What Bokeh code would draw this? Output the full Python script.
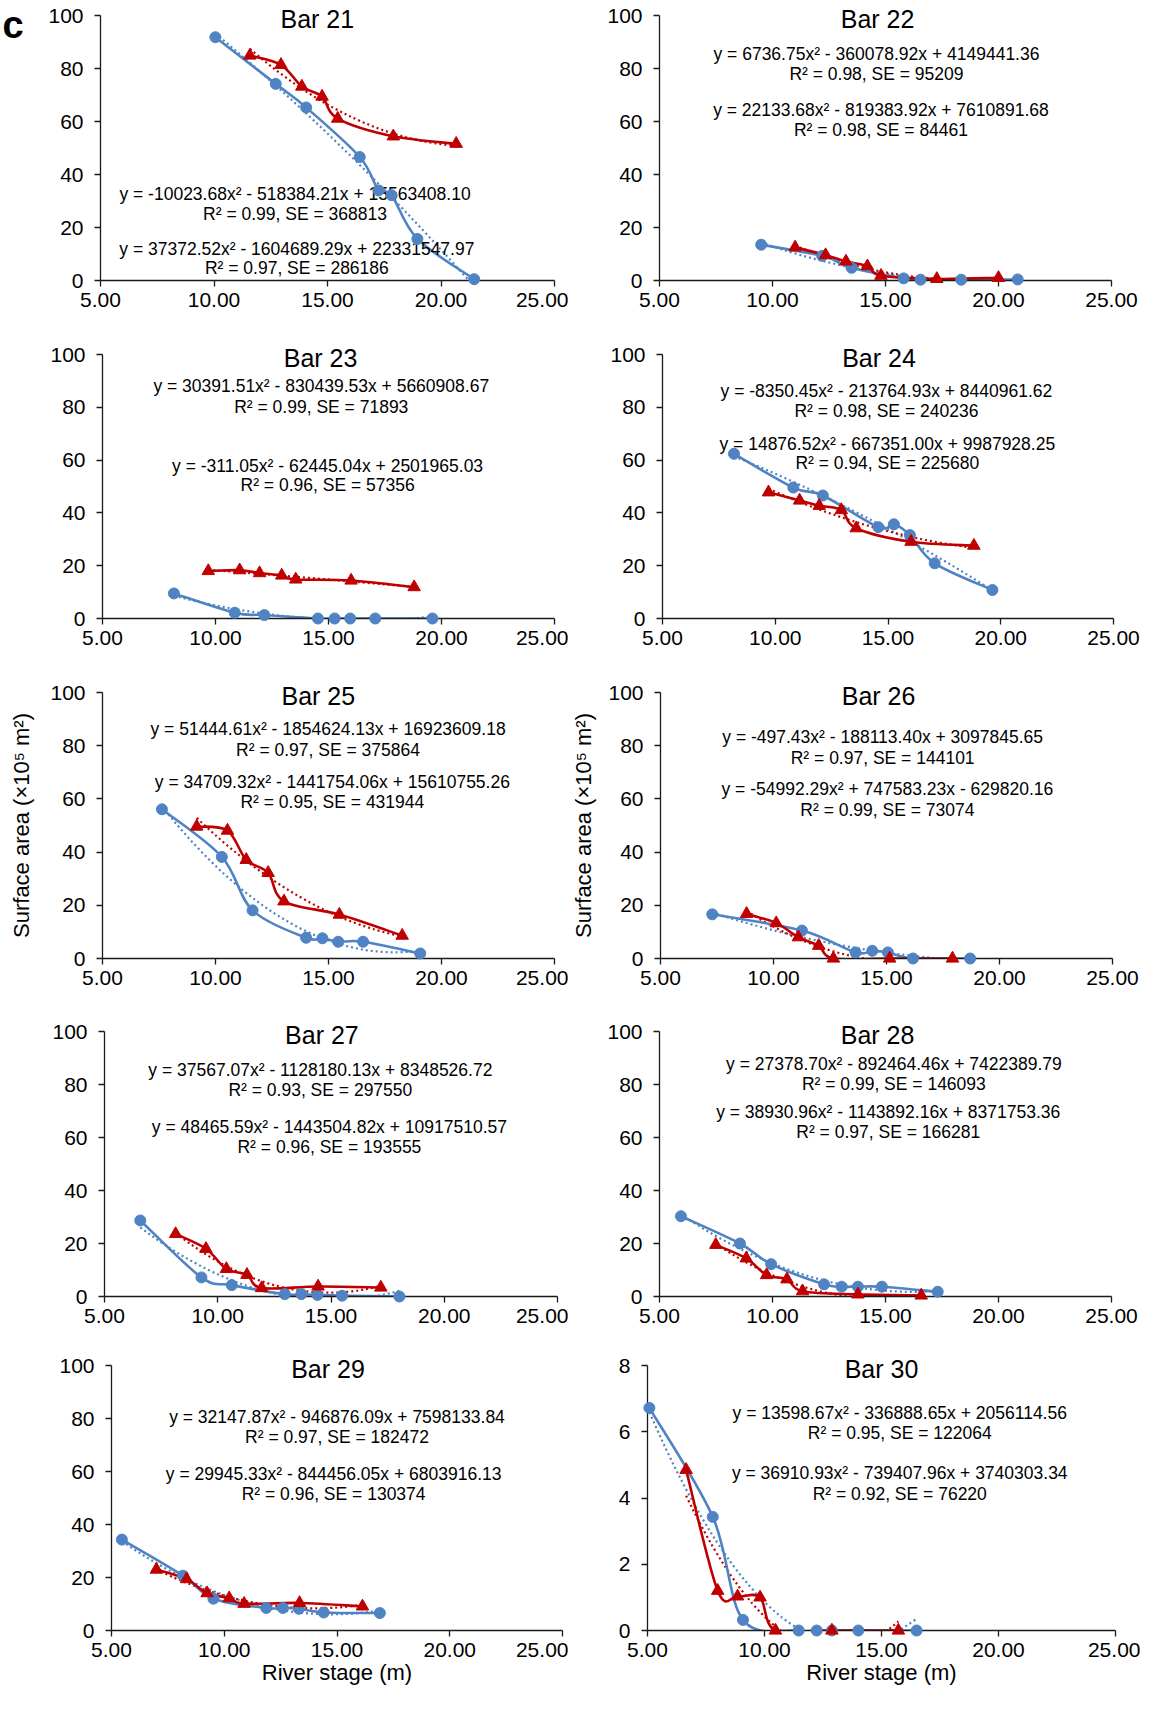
import numpy as np
from bokeh.plotting import figure
from bokeh.layouts import column, row
from bokeh.models import Range1d, FixedTicker, NumeralTickFormatter
from bokeh.embed import file_html
from bokeh.resources import INLINE
from bokeh.core.properties import value

FONT = "Liberation Sans"
BLUE = "#4f83c3"
RED = "#c00000"

# ---------------- data (river stage m, surface area x10^5 m^2) ----------------
X_TICKS = [5, 10, 15, 20, 25]
Y_TICKS_100 = [0, 20, 40, 60, 80, 100]
Y_TICKS_8 = [0, 2, 4, 6, 8]

BAR21_BLUE_X = [10.06, 12.72, 14.06, 16.42, 17.25, 17.82, 18.96, 21.46]
BAR21_BLUE_Y = [91.8, 74.2, 65.3, 46.6, 34.0, 32.2, 15.7, 0.5]
BAR21_RED_X = [11.58, 12.95, 13.87, 14.76, 15.45, 17.90, 20.67]
BAR21_RED_Y = [84.9, 81.4, 73.2, 69.4, 61.1, 54.4, 51.6]

BAR22_BLUE_X = [9.50, 12.20, 13.50, 15.80, 16.55, 18.35, 20.85]
BAR22_BLUE_Y = [13.5, 9.3, 4.8, 0.8, 0.3, 0.3, 0.4]
BAR22_RED_X = [11.00, 12.35, 13.25, 14.20, 14.80, 17.27, 20.00]
BAR22_RED_Y = [12.5, 9.6, 7.2, 5.4, 1.8, 0.6, 1.0]

BAR23_BLUE_X = [8.16, 10.85, 12.16, 14.53, 15.27, 15.96, 17.07, 19.60]
BAR23_BLUE_Y = [9.5, 2.2, 1.3, 0.0, 0.0, 0.0, 0.0, 0.0]
BAR23_RED_X = [9.68, 11.07, 11.95, 12.93, 13.55, 16.00, 18.79]
BAR23_RED_Y = [18.0, 18.3, 17.2, 16.3, 14.8, 14.4, 11.9]

BAR24_BLUE_X = [8.17, 10.80, 12.11, 14.57, 15.26, 15.97, 17.07, 19.63]
BAR24_BLUE_Y = [62.4, 49.6, 46.6, 34.6, 35.7, 31.6, 20.9, 10.8]
BAR24_RED_X = [9.70, 11.08, 11.95, 12.93, 13.59, 16.02, 18.81]
BAR24_RED_Y = [47.8, 44.7, 42.7, 41.1, 34.2, 29.1, 27.6]

BAR25_BLUE_X = [7.63, 10.28, 11.64, 14.01, 14.73, 15.43, 16.53, 19.06]
BAR25_BLUE_Y = [56.1, 38.2, 18.1, 7.8, 7.6, 6.3, 6.3, 1.9]
BAR25_RED_X = [9.17, 10.53, 11.36, 12.33, 13.03, 15.48, 18.26]
BAR25_RED_Y = [49.6, 48.1, 37.1, 32.2, 21.5, 16.5, 8.6]

BAR26_BLUE_X = [7.29, 11.26, 13.63, 14.37, 15.06, 16.17, 18.70]
BAR26_BLUE_Y = [16.6, 10.5, 2.3, 2.9, 2.3, 0.0, 0.0]
BAR26_RED_X = [8.81, 10.12, 11.10, 12.00, 12.65, 15.14, 17.92]
BAR26_RED_Y = [16.8, 13.3, 8.0, 4.8, 0.0, 0.0, 0.0]

BAR27_BLUE_X = [6.58, 9.28, 10.62, 12.96, 13.69, 14.40, 15.49, 18.02]
BAR27_BLUE_Y = [28.7, 7.2, 4.3, 0.9, 0.9, 0.6, 0.3, 0.0]
BAR27_RED_X = [8.14, 9.48, 10.38, 11.29, 11.94, 14.43, 17.20]
BAR27_RED_Y = [23.6, 18.0, 10.4, 8.2, 3.2, 3.8, 3.4]

BAR28_BLUE_X = [5.95, 8.56, 9.94, 12.28, 13.06, 13.78, 14.84, 17.31]
BAR28_BLUE_Y = [30.3, 20.0, 12.2, 4.6, 3.7, 3.7, 3.7, 1.8]
BAR28_RED_X = [7.49, 8.84, 9.74, 10.64, 11.33, 13.78, 16.58]
BAR28_RED_Y = [19.5, 14.4, 8.1, 6.5, 2.0, 0.8, 0.4]

BAR29_BLUE_X = [5.46, 8.17, 9.52, 11.86, 12.60, 13.31, 14.41, 16.90]
BAR29_BLUE_Y = [34.3, 20.7, 12.0, 8.5, 8.5, 8.2, 6.8, 6.6]
BAR29_RED_X = [6.99, 8.33, 9.24, 10.22, 10.88, 13.34, 16.13]
BAR29_RED_Y = [23.0, 19.4, 14.1, 12.2, 10.1, 10.4, 9.1]

BAR30_BLUE_X = [5.08, 7.79, 9.08, 11.46, 12.23, 12.88, 14.01, 16.50]
BAR30_BLUE_Y = [6.72, 3.43, 0.32, 0.0, 0.0, 0.0, 0.0, 0.0]
BAR30_RED_X = [6.65, 8.00, 8.85, 9.81, 10.47, 12.88, 15.72]
BAR30_RED_Y = [4.85, 1.20, 1.03, 1.00, 0.0, 0.0, 0.0]

EQ21 = ["y = -10023.68x² - 518384.21x + 15563408.10", "R² = 0.99, SE = 368813",
        "y = 37372.52x² - 1604689.29x + 22331547.97", "R² = 0.97, SE = 286186"]
EQ22 = ["y = 6736.75x² - 360078.92x + 4149441.36", "R² = 0.98, SE = 95209",
        "y = 22133.68x² - 819383.92x + 7610891.68", "R² = 0.98, SE = 84461"]
EQ23 = ["y = 30391.51x² - 830439.53x + 5660908.67", "R² = 0.99, SE = 71893",
        "y = -311.05x² - 62445.04x + 2501965.03", "R² = 0.96, SE = 57356"]
EQ24 = ["y = -8350.45x² - 213764.93x + 8440961.62", "R² = 0.98, SE = 240236",
        "y = 14876.52x² - 667351.00x + 9987928.25", "R² = 0.94, SE = 225680"]
EQ25 = ["y = 51444.61x² - 1854624.13x + 16923609.18", "R² = 0.97, SE = 375864",
        "y = 34709.32x² - 1441754.06x + 15610755.26", "R² = 0.95, SE = 431944"]
EQ26 = ["y = -497.43x² - 188113.40x + 3097845.65", "R² = 0.97, SE = 144101",
        "y = -54992.29x² + 747583.23x - 629820.16", "R² = 0.99, SE = 73074"]
EQ27 = ["y = 37567.07x² - 1128180.13x + 8348526.72", "R² = 0.93, SE = 297550",
        "y = 48465.59x² - 1443504.82x + 10917510.57", "R² = 0.96, SE = 193555"]
EQ28 = ["y = 27378.70x² - 892464.46x + 7422389.79", "R² = 0.99, SE = 146093",
        "y = 38930.96x² - 1143892.16x + 8371753.36", "R² = 0.97, SE = 166281"]
EQ29 = ["y = 32147.87x² - 946876.09x + 7598133.84", "R² = 0.97, SE = 182472",
        "y = 29945.33x² - 844456.05x + 6803916.13", "R² = 0.96, SE = 130374"]
EQ30 = ["y = 13598.67x² - 336888.65x + 2056114.56", "R² = 0.95, SE = 122064",
        "y = 36910.93x² - 739407.96x + 3740303.34", "R² = 0.92, SE = 76220"]

PANELS = [
    ("Bar 21", BAR21_BLUE_X, BAR21_BLUE_Y, BAR21_RED_X, BAR21_RED_Y, EQ21, 100, Y_TICKS_100),
    ("Bar 22", BAR22_BLUE_X, BAR22_BLUE_Y, BAR22_RED_X, BAR22_RED_Y, EQ22, 100, Y_TICKS_100),
    ("Bar 23", BAR23_BLUE_X, BAR23_BLUE_Y, BAR23_RED_X, BAR23_RED_Y, EQ23, 100, Y_TICKS_100),
    ("Bar 24", BAR24_BLUE_X, BAR24_BLUE_Y, BAR24_RED_X, BAR24_RED_Y, EQ24, 100, Y_TICKS_100),
    ("Bar 25", BAR25_BLUE_X, BAR25_BLUE_Y, BAR25_RED_X, BAR25_RED_Y, EQ25, 100, Y_TICKS_100),
    ("Bar 26", BAR26_BLUE_X, BAR26_BLUE_Y, BAR26_RED_X, BAR26_RED_Y, EQ26, 100, Y_TICKS_100),
    ("Bar 27", BAR27_BLUE_X, BAR27_BLUE_Y, BAR27_RED_X, BAR27_RED_Y, EQ27, 100, Y_TICKS_100),
    ("Bar 28", BAR28_BLUE_X, BAR28_BLUE_Y, BAR28_RED_X, BAR28_RED_Y, EQ28, 100, Y_TICKS_100),
    ("Bar 29", BAR29_BLUE_X, BAR29_BLUE_Y, BAR29_RED_X, BAR29_RED_Y, EQ29, 100, Y_TICKS_100),
    ("Bar 30", BAR30_BLUE_X, BAR30_BLUE_Y, BAR30_RED_X, BAR30_RED_Y, EQ30, 8, Y_TICKS_8),
]

Y_LABEL = "Surface area (×10⁵ m²)"
X_LABEL = "River stage (m)"

# ---------------- layout (page pixels) ----------------
ROW_EDGES = [8, 333, 672, 1011, 1350, 1701]
COL_LEFT = [8, 576]
COL_WIDTH = [568, 572]
# page x of the 5 and 25 ticks, page y of the top value and of 0
GEOM = {
    "Bar 21": (108.5, 562, 23, 288.5),
    "Bar 22": (667, 1119, 23, 288.5),
    "Bar 23": (110, 562, 361.5, 626.5),
    "Bar 24": (670, 1121, 361.5, 626.5),
    "Bar 25": (110, 562, 700, 965.5),
    "Bar 26": (667, 1119, 698, 964),
    "Bar 27": (112, 565, 1039, 1304.5),
    "Bar 28": (667, 1119, 1039, 1304.5),
    "Bar 29": (119, 570, 1373, 1638),
    "Bar 30": (655, 1123, 1371, 1636),
}
TITLE_X = {"Bar 21": 14.55, "Bar 22": 14.65, "Bar 23": 14.65, "Bar 24": 14.6, "Bar 25": 14.55,
           "Bar 26": 14.65, "Bar 27": 14.6, "Bar 28": 14.65, "Bar 29": 14.6, "Bar 30": 15.0}
EQ_POS = {
    "Bar 21": ([13.57, 13.57, 13.65, 13.65], [32.7, 25.1, 11.8, 4.6]),
    "Bar 22": ([14.6, 14.6, 14.8, 14.8], [85.6, 77.8, 64.3, 56.7]),
    "Bar 23": ([14.68, 14.68, 14.96, 14.96], [88.0, 80.1, 57.9, 50.6]),
    "Bar 24": ([14.93, 14.93, 14.97, 14.97], [86.1, 78.5, 66.2, 58.9]),
    "Bar 25": ([14.98, 14.98, 15.17, 15.17], [86.1, 78.5, 66.2, 58.9]),
    "Bar 26": ([14.83, 14.83, 15.04, 15.04], [83.2, 75.2, 63.8, 56.0]),
    "Bar 27": ([14.53, 14.53, 14.93, 14.93], [85.3, 78.0, 63.8, 56.3]),
    "Bar 28": ([15.37, 15.37, 15.12, 15.12], [87.8, 80.3, 69.5, 61.9]),
    "Bar 29": ([15.0, 15.0, 14.85, 14.85], [80.7, 73.2, 59.0, 51.4]),
    "Bar 30": ([15.78, 15.78, 15.78, 15.78], [6.58, 5.96, 4.76, 4.12]),
}
YLABEL_STANDOFF = {"Bar 25": 13, "Bar 26": 9}


def smooth_bezier(xs, ys):
    x = np.asarray(xs, float)
    y = np.asarray(ys, float)
    n = len(x)
    xp = np.concatenate([[x[0]], x, [x[-1]]])
    yp = np.concatenate([[y[0]], y, [y[-1]]])
    i = np.arange(n - 1)
    cx0 = xp[i + 1] + (xp[i + 2] - xp[i]) / 6.0
    cy0 = yp[i + 1] + (yp[i + 2] - yp[i]) / 6.0
    cx1 = xp[i + 2] - (xp[i + 3] - xp[i + 1]) / 6.0
    cy1 = yp[i + 2] - (yp[i + 3] - yp[i + 1]) / 6.0
    return dict(x0=x[:-1], y0=y[:-1], x1=x[1:], y1=y[1:], cx0=cx0, cy0=cy0, cx1=cx1, cy1=cy1)


def quad_trend(xs, ys):
    a, b, c = np.polyfit(xs, ys, 2)
    x0, x1 = float(min(xs)), float(max(xs))
    f0 = a * x0 * x0 + b * x0 + c
    f1 = a * x1 * x1 + b * x1 + c
    d0 = 2 * a * x0 + b
    return dict(x0=[x0], y0=[f0], x1=[x1], y1=[f1], cx=[(x0 + x1) / 2], cy=[f0 + d0 * (x1 - x0) / 2])


def make_panel(k, spec):
    title, bx, by, rx, ry, eqs, ymax, yticks = spec
    r, col = divmod(k, 2)
    x5, x25, top, bottom = GEOM[title]
    cl, cw = COL_LEFT[col], COL_WIDTH[col]
    ct = ROW_EDGES[r]
    ch = ROW_EDGES[r + 1] - ct
    fl = int(round(x5))
    fr = int(round(x25))
    ft = int(round(top))
    fb = int(round(bottom))
    ppx = (fr - fl) / 20.0
    ppy = (fb - ft) / float(ymax)

    p = figure(x_range=Range1d(5, 25), y_range=Range1d(0, ymax), title=None,
               toolbar_location=None, output_backend="svg",
               frame_width=fr - fl, frame_height=fb - ft,
               min_border_left=fl - cl, min_border_right=cw - (fr - cl),
               min_border_top=ft - ct, min_border_bottom=ch - (fb - ct))
    p.outline_line_color = None
    p.xgrid.visible = False
    p.ygrid.visible = False
    p.background_fill_color = "white"
    p.border_fill_color = "white"

    for ax in (p.xaxis[0], p.yaxis[0]):
        ax.axis_line_color = "#1a1a1a"
        ax.axis_line_width = 1.3
        ax.major_tick_line_color = "#1a1a1a"
        ax.major_tick_line_width = 1.3
        ax.major_tick_out = 6
        ax.major_tick_in = 0
        ax.minor_tick_out = 0
        ax.minor_tick_in = 0
        ax.major_label_text_font = FONT
        ax.major_label_text_font_size = "21px"
        ax.major_label_text_color = "black"
        ax.axis_label_text_font = FONT
        ax.axis_label_text_font_size = "22px"
        ax.axis_label_text_font_style = "normal"
        ax.axis_label_text_color = "black"
    xa, ya = p.xaxis[0], p.yaxis[0]
    xa.ticker = FixedTicker(ticks=X_TICKS)
    ya.ticker = FixedTicker(ticks=yticks)
    xa.formatter = NumeralTickFormatter(format="0.00")
    xa.major_label_standoff = 6
    ya.major_label_standoff = 11
    if title in YLABEL_STANDOFF:
        ya.axis_label = Y_LABEL
        ya.axis_label_standoff = YLABEL_STANDOFF[title]
    if title in ("Bar 29", "Bar 30"):
        xa.axis_label = X_LABEL
        xa.axis_label_standoff = 0

    # quadratic trend lines (dotted) and smoothed series lines, clipped to the plot area
    for xs, ys, c in ((bx, by, BLUE), (rx, ry, RED)):
        p.quadratic(source=quad_trend(xs, ys), x0="x0", y0="y0", x1="x1", y1="y1",
                    cx="cx", cy="cy", line_color=c, line_width=2.2, line_dash="2 3")
    p.bezier(source=smooth_bezier(bx, by), x0="x0", y0="y0", x1="x1", y1="y1",
             cx0="cx0", cy0="cy0", cx1="cx1", cy1="cy1", line_color=BLUE, line_width=2.6)
    p.bezier(source=smooth_bezier(rx, ry), x0="x0", y0="y0", x1="x1", y1="y1",
             cx0="cx0", cy0="cy0", cx1="cx1", cy1="cy1", line_color=RED, line_width=2.6)
    # markers drawn on top of the axes (not clipped at the plot edge)
    p.scatter(bx, by, marker="circle", size=11, fill_color=BLUE, line_color=BLUE, level="overlay")
    p.scatter(rx, ry, marker="triangle", size=12.5, fill_color=RED, line_color=RED, level="overlay")

    ex, ey = EQ_POS[title]
    p.text(x=ex, y=ey, text=eqs, text_font=value(FONT), text_font_size="17.5px",
           text_color="black", text_align="center", text_baseline="middle")

    p.text(x=[TITLE_X[title]], y=[ymax], text=[title], text_font=value(FONT),
           text_font_size="25px", text_color="black", text_align="center",
           text_baseline="alphabetic", y_offset=3, level="overlay")
    if title == "Bar 21":
        p.text(x=[5 + (10 - fl) / ppx], y=[(fb - 32) / ppy], text=["c"], text_font=value(FONT),
               text_font_size="38px", text_font_style="bold", text_color="black",
               text_align="left", text_baseline="alphabetic", level="overlay")
    return p


figs = [make_panel(k, spec) for k, spec in enumerate(PANELS)]
layout = column(*[row(figs[2 * i], figs[2 * i + 1], spacing=0) for i in range(5)], spacing=0)

open("out.html", "w").write(file_html(layout, INLINE))
